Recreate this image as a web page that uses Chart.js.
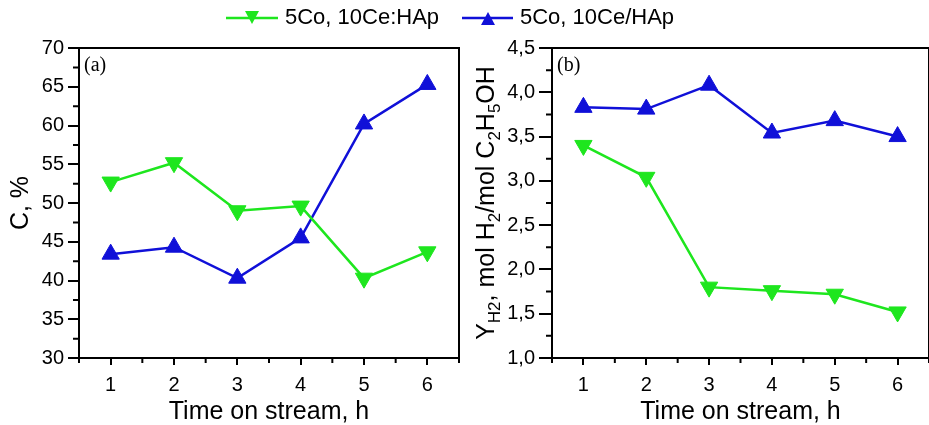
<!DOCTYPE html>
<html>
<head>
<meta charset="utf-8">
<script src="https://cdn.jsdelivr.net/npm/chart.js@4/dist/chart.umd.min.js"></script>
<style>
  html, body { margin: 0; padding: 0; background: #fff; overflow: hidden; }
  #wrap { position: relative; width: 929px; height: 425px; overflow: hidden; }
  #chartA { position: absolute; left: 0; top: 0; }
  #chartB { position: absolute; left: 465px; top: 0; }
  .leg { position: absolute; top: 4px; font: 22px "Liberation Sans", Arial, sans-serif; color: #000; white-space: nowrap; }
</style>
</head>
<body>
<div id="wrap">
  <canvas id="chartA" width="470" height="425"></canvas>
  <canvas id="chartB" width="475" height="425"></canvas>
  <svg width="929" height="40" style="position:absolute;left:0;top:0">
    <line x1="226" y1="18" x2="278" y2="18" stroke="#1ee61e" stroke-width="2.5"/>
    <polygon points="245,11 259,11 252,24" fill="#1ee61e"/>
    <line x1="462" y1="18" x2="513" y2="18" stroke="#1010d8" stroke-width="2.5"/>
    <polygon points="481,25 495,25 488,12" fill="#1010d8"/>
  </svg>
  <div class="leg" style="left:285px">5Co, 10Ce:HAp</div>
  <div class="leg" style="left:520px">5Co, 10Ce/HAp</div>
</div>
<script>
const hours = ['1', '2', '3', '4', '5', '6'];
const convColon = [52.7, 55.2, 49.0, 49.6, 40.3, 43.7];   // 5Co, 10Ce:HAp
const convSlash = [43.4, 44.3, 40.3, 45.5, 60.2, 65.3];   // 5Co, 10Ce/HAp
const yieldColon = [3.40, 3.04, 1.80, 1.76, 1.72, 1.52];
const yieldSlash = [3.83, 3.81, 4.08, 3.54, 3.68, 3.50];

const GREEN = '#1ee61e';
const BLUE = '#1010d8';
const SANS = '"Liberation Sans", Arial, sans-serif';

// frame, minor ticks and panel letter
const framePlugin = {
    id: 'frame',
    afterDraw(chart, args, opts) {
        const ctx = chart.ctx;
        const a = chart.chartArea;
        const x = chart.scales.x, y = chart.scales.y;
        ctx.save();
        ctx.strokeStyle = '#000';
        ctx.lineWidth = 2;
        ctx.strokeRect(a.left, a.top, a.right - a.left, a.bottom - a.top);
        // minor y ticks
        ctx.beginPath();
        for (let v = opts.yMin + opts.yStep / 2; v < opts.yMax; v += opts.yStep) {
            const py = y.getPixelForValue(v);
            ctx.moveTo(a.left - 6, py);
            ctx.lineTo(a.left, py);
        }
        // minor x ticks, halfway between categories
        const half = (x.getPixelForValue(1) - x.getPixelForValue(0)) / 2;
        for (let i = 0; i <= hours.length; i++) {
            const px = x.getPixelForValue(0) - half + i * half * 2;
            ctx.moveTo(px, a.bottom);
            ctx.lineTo(px, a.bottom + 5);
        }
        ctx.stroke();
        ctx.fillStyle = '#000';
        ctx.font = '20px "Liberation Serif", "Times New Roman", serif';
        ctx.textBaseline = 'alphabetic';
        ctx.fillText(opts.label, a.left + 5, a.top + 23);
        ctx.restore();
    }
};

// y title with subscripts for panel (b)
const yieldTitle = {
    id: 'yieldTitle',
    afterDraw(chart) {
        const ctx = chart.ctx;
        const a = chart.chartArea;
        const parts = [
            ['Y', false], ['H2', true], [', mol H', false], ['2', true],
            ['/mol C', false], ['2', true], ['H', false], ['5', true], ['OH', false]
        ];
        const big = '25px ' + SANS, small = '17px ' + SANS;
        ctx.save();
        let total = 0;
        parts.forEach(p => { ctx.font = p[1] ? small : big; total += ctx.measureText(p[0]).width; });
        ctx.translate(29, (a.top + a.bottom) / 2);
        ctx.rotate(-Math.PI / 2);
        ctx.fillStyle = '#000';
        ctx.textBaseline = 'alphabetic';
        let cx = -total / 2;
        parts.forEach(p => {
            ctx.font = p[1] ? small : big;
            ctx.fillText(p[0], cx, p[1] ? 6 : 0);
            cx += ctx.measureText(p[0]).width;
        });
        ctx.restore();
    }
};

function makeScales(yMin, yMax, yStep, yWidth, yTickLen, yTitle, fmt) {
    return {
        x: {
            type: 'category',
            offset: true,
            grid: { drawOnChartArea: false, color: '#000', lineWidth: 2, tickLength: 7 },
            border: { color: '#000', width: 2 },
            ticks: { color: '#000', font: { family: SANS, size: 20 }, padding: 8, maxRotation: 0 },
            title: {
                display: true, text: 'Time on stream, h', color: '#000',
                font: { family: SANS, size: 25, lineHeight: 1 }, padding: { top: 0, bottom: 0 }
            },
            afterFit: s => { s.height = 67; }
        },
        y: {
            min: yMin, max: yMax,
            grid: { drawOnChartArea: false, color: '#000', lineWidth: 2, tickLength: yTickLen },
            border: { color: '#000', width: 2 },
            ticks: { stepSize: yStep, color: '#000', font: { family: SANS, size: 20 }, padding: 4, callback: fmt },
            title: yTitle,
            afterFit: s => { s.width = yWidth; }
        }
    };
}

function lineSet(label, data, color, rot) {
    return {
        label: label,
        data: data,
        borderColor: color,
        backgroundColor: color,
        borderWidth: 2.5,
        pointStyle: 'triangle',
        pointRotation: rot,
        pointRadius: 10,
        pointBorderWidth: 1,
        tension: 0
    };
}

new Chart(document.getElementById('chartA'), {
    type: 'line',
    data: {
        labels: hours,
        datasets: [
            lineSet('5Co, 10Ce:HAp', convColon, GREEN, 180),
            lineSet('5Co, 10Ce/HAp', convSlash, BLUE, 0)
        ]
    },
    options: {
        responsive: false,
        animation: false,
        layout: { padding: { top: 48, right: 7, left: 0, bottom: 0 } },
        plugins: {
            legend: { display: false },
            tooltip: { enabled: false },
            frame: { label: '(a)', yMin: 30, yMax: 70, yStep: 5 }
        },
        scales: makeScales(30, 70, 5, 79, 11, {
            display: true, text: 'C, %', color: '#000',
            font: { family: SANS, size: 25 }, padding: { top: 6, bottom: 4 }
        }, v => v)
    },
    plugins: [framePlugin]
});

new Chart(document.getElementById('chartB'), {
    type: 'line',
    data: {
        labels: hours,
        datasets: [
            lineSet('5Co, 10Ce:HAp', yieldColon, GREEN, 180),
            lineSet('5Co, 10Ce/HAp', yieldSlash, BLUE, 0)
        ]
    },
    options: {
        responsive: false,
        animation: false,
        layout: { padding: { top: 48, right: 5, left: 0, bottom: 0 } },
        plugins: {
            legend: { display: false },
            tooltip: { enabled: false },
            frame: { label: '(b)', yMin: 1, yMax: 4.5, yStep: 0.5 }
        },
        scales: makeScales(1, 4.5, 0.5, 87, 13, { display: false },
            v => v.toFixed(1).replace('.', ','))
    },
    plugins: [framePlugin, yieldTitle]
});
</script>
</body>
</html>
